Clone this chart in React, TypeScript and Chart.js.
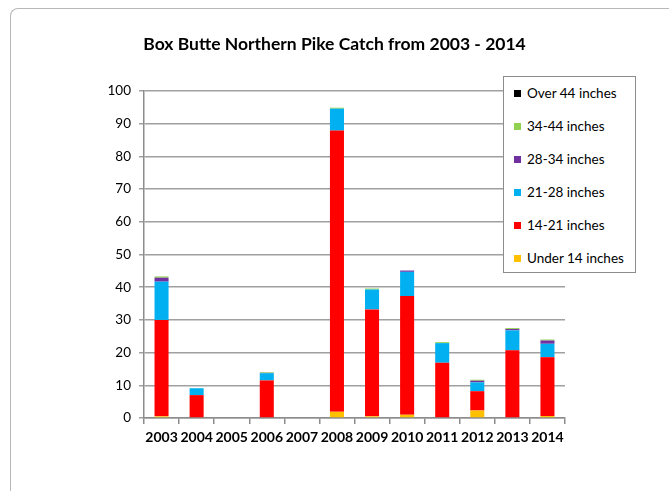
import React, { useEffect, useRef } from "react";
import { Chart, registerables } from "chart.js";

Chart.register(...registerables);

const years = ["2003", "2004", "2005", "2006", "2007", "2008", "2009", "2010", "2011", "2012", "2013", "2014"];
const under14 = [0.5, 0, 0, 0, 0, 1.9, 0.5, 1.0, 0, 2.3, 0, 0.6];
const in14to21 = [29.5, 7.0, 0, 11.5, 0, 86.0, 32.7, 36.3, 16.9, 5.9, 20.7, 18.0];
const in21to28 = [11.7, 2.1, 0, 2.2, 0, 6.7, 6.1, 7.4, 6.0, 2.7, 6.1, 4.1];
const in28to34 = [1.2, 0, 0, 0.1, 0, 0, 0, 0.4, 0, 0.5, 0.4, 1.0];
const in34to44 = [0.4, 0, 0, 0.2, 0, 0.3, 0.3, 0, 0.3, 0.3, 0.3, 0.3];
const over44 = [0, 0, 0, 0, 0, 0, 0, 0, 0, 0, 0, 0];

const seriesNames = ["Under 14 inches", "14-21 inches", "21-28 inches", "28-34 inches", "34-44 inches", "Over 44 inches"];
const seriesColors = ["#FFC000", "#FF0000", "#00B0F0", "#7030A0", "#92D050", "#000000"];
const seriesData = [under14, in14to21, in21to28, in28to34, in34to44, over44];

const yTicks = [0, 10, 20, 30, 40, 50, 60, 70, 80, 90, 100];

const FONT = "Lato, 'Liberation Sans', sans-serif";

export default function App() {
  const ref = useRef<HTMLCanvasElement>(null);

  useEffect(() => {
    if (!ref.current) return;
    const chart = new Chart(ref.current, {
      type: "bar",
      data: {
        labels: years,
        datasets: seriesData.map((d, i) => ({
          label: seriesNames[i],
          data: d,
          backgroundColor: seriesColors[i],
          borderWidth: 0,
          categoryPercentage: 1,
          barPercentage: 0.4,
        })),
      },
      options: {
        responsive: false,
        maintainAspectRatio: false,
        animation: false,
        layout: { padding: { left: 0, right: 0, top: 0, bottom: 0 } },
        plugins: {
          legend: { display: false },
          tooltip: { enabled: false },
          title: {
            display: true,
            text: "Box Butte Northern Pike Catch from 2003 - 2014",
            color: "#000",
            font: { family: FONT, size: 17.5, weight: "bold", lineHeight: 1.2 },
            padding: { top: 33.5, bottom: 36.5 },
          },
        },
        scales: {
          x: {
            stacked: true,
            offset: true,
            grid: {
              display: true,
              drawOnChartArea: false,
              drawTicks: true,
              tickLength: 6,
              color: "#8c8c8c",
              lineWidth: 1.5,
              offset: true,
            },
            border: { display: true, color: "#8c8c8c", width: 1.5 },
            ticks: {
              color: "#000",
              font: { family: FONT, size: 14, weight: "bold" },
              padding: 5,
              maxRotation: 0,
              autoSkip: false,
            },
            afterFit: (scale: any) => {
              scale.height = 73;
            },
          },
          y: {
            stacked: true,
            min: 0,
            max: 100,
            afterBuildTicks: (scale: any) => {
              scale.ticks = yTicks.map((v) => ({ value: v }));
            },
            grid: {
              color: "#a0a0a0",
              lineWidth: 1.5,
              tickLength: 5,
              drawTicks: true,
            },
            border: { display: true, color: "#8c8c8c", width: 1.5 },
            ticks: {
              color: "#000",
              font: { family: FONT, size: 13.5 },
              padding: 8,
            },
            afterFit: (scale: any) => {
              scale.width = 144;
            },
          },
          yRight: {
            position: "right",
            display: true,
            grid: { display: false, drawTicks: false },
            border: { display: false },
            ticks: { display: false },
            afterFit: (scale: any) => {
              scale.width = 104;
            },
          },
        },
      },
    });
    return () => chart.destroy();
  }, []);

  const legendOrder = [5, 4, 3, 2, 1, 0];

  return (
    <div style={{ position: "fixed", left: 0, top: 0, width: 669, height: 491, background: "#fff", overflow: "hidden" }}>
      <div
        style={{
          position: "absolute",
          left: 10,
          top: 8,
          width: 700,
          height: 600,
          borderTop: "1.5px solid #b8b8b8",
          borderLeft: "1.5px solid #b8b8b8",
          borderTopLeftRadius: 8,
        }}
      />
      <canvas ref={ref} width={669} height={491} style={{ position: "absolute", left: 0, top: 0 }} />
      <div
        style={{
          position: "absolute",
          left: 503,
          top: 76,
          width: 133,
          height: 197,
          boxSizing: "border-box",
          border: "1.5px solid #8c8c8c",
          background: "#fff",
          fontFamily: FONT,
          fontSize: 13.5,
          color: "#000",
        }}
      >
        {legendOrder.map((idx, k) => (
          <div
            key={idx}
            style={{
              position: "absolute",
              left: 10,
              top: 16 + k * 33 - 8,
              height: 16,
              display: "flex",
              alignItems: "center",
              whiteSpace: "nowrap",
            }}
          >
            <span style={{ display: "inline-block", width: 7, height: 7, background: seriesColors[idx], marginRight: 6 }} />
            <span>{seriesNames[idx]}</span>
          </div>
        ))}
      </div>
    </div>
  );
}
